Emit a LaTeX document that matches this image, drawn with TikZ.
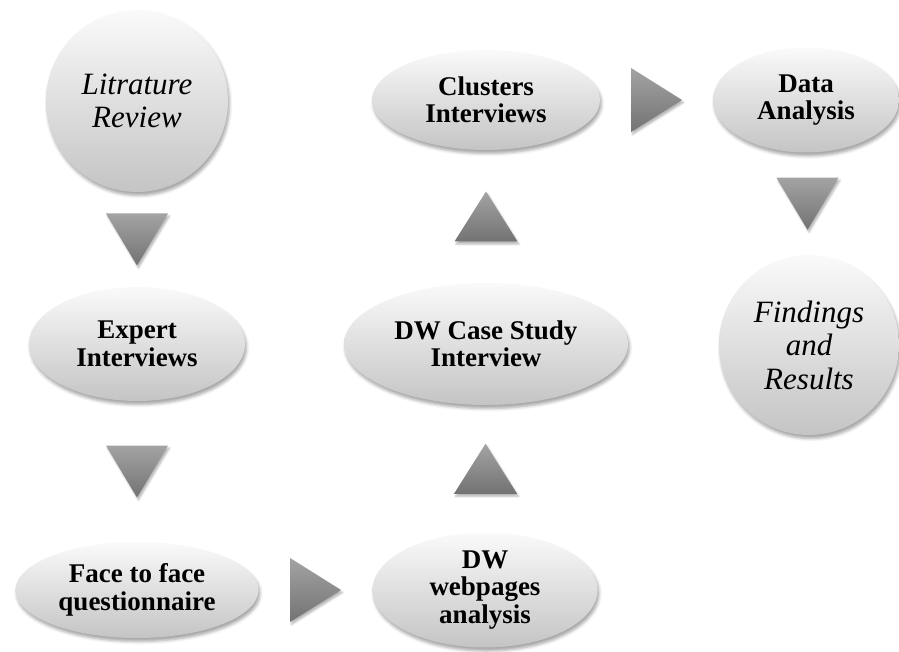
\documentclass[tikz,border=0pt]{standalone}
\usepackage{fontspec}
\setmainfont{Liberation Serif}
\usetikzlibrary{shapes.geometric,shadows.blur,calc}

\tikzset{
  softshadow/.style={blur shadow={shadow xshift=1.5pt, shadow yshift=-3.5pt,
      shadow blur radius=3pt, shadow opacity=35}},
  bubble/.style={ellipse, inner sep=0pt, draw=none, align=center,
      top color=black!2, bottom color=black!23, softshadow},
  disc/.style={circle, inner sep=0pt, draw=none, align=center,
      top color=black!2, bottom color=black!23, softshadow},
  boldtext/.style={font=\fontsize{27}{27.5}\selectfont\bfseries},
  itext/.style={font=\fontsize{31}{33.5}\selectfont\itshape},
  tri/.style={top color=black!36, bottom color=black!55, draw=none,
      blur shadow={shadow xshift=1.5pt, shadow yshift=-2.5pt,
      shadow blur radius=2pt, shadow opacity=30}},
  pics/tridown/.style={code={\path[tri] (-31,-26) -- (31,-26) -- (0,26) -- cycle;}},
  pics/triup/.style={code={\path[tri] (0,-25) -- (31.5,25) -- (-31.5,25) -- cycle;}},
  pics/triright/.style={code={\path[tri] (-25.5,-32) -- (25.5,0) -- (-25.5,32) -- cycle;}},
}

\begin{document}
\begin{tikzpicture}[x=1pt, y=-1pt]
  \useasboundingbox (0,0) rectangle (899,652);

  % process steps
  \node[disc, itext, minimum size=182pt] (lit) at (137,101) {Litrature\\Review};
  \node[bubble, boldtext, minimum width=216pt, minimum height=114pt] (exp) at (137,344) {Expert\\Interviews};
  \node[bubble, boldtext, minimum width=243pt, minimum height=96pt] (face) at (137,590) {Face to face\\questionnaire};
  \node[bubble, boldtext, minimum width=225pt, minimum height=115pt] (web) at (485,590) {DW\\webpages\\analysis};
  \node[bubble, boldtext, minimum width=284pt, minimum height=122pt] (case) at (486,344) {DW Case Study\\Interview};
  \node[bubble, boldtext, minimum width=228pt, minimum height=100pt] (clu) at (486,100) {Clusters\\Interviews};
  \node[bubble, boldtext, minimum width=186pt, minimum height=105pt] (data) at (806,100) {Data\\Analysis};
  \node[disc, itext, minimum size=180pt] (find) at (809,345) {Findings\\and\\Results};

  % arrows between the steps
  \path (lit.south) -- (exp.north) coordinate[midway] (a1);
  \path (exp.south) -- (face.north) coordinate[midway] (a2);
  \path (face.east) -- (web.west) coordinate[midway] (a3);
  \path (web.north) -- (case.south) coordinate[midway] (a4);
  \path (case.north) -- (clu.south) coordinate[midway] (a5);
  \path (clu.east) -- (data.west) coordinate[midway] (a6);
  \path (data.south) -- (find.north) coordinate[midway] (a7);

  \pic at (a1) {tridown};
  \pic at (a2) {tridown};
  \pic at (a3) {triright};
  \pic at (a4) {triup};
  \pic at (a5) {triup};
  \pic at (a6) {triright};
  \pic at (a7) {tridown};
\end{tikzpicture}
\end{document}
